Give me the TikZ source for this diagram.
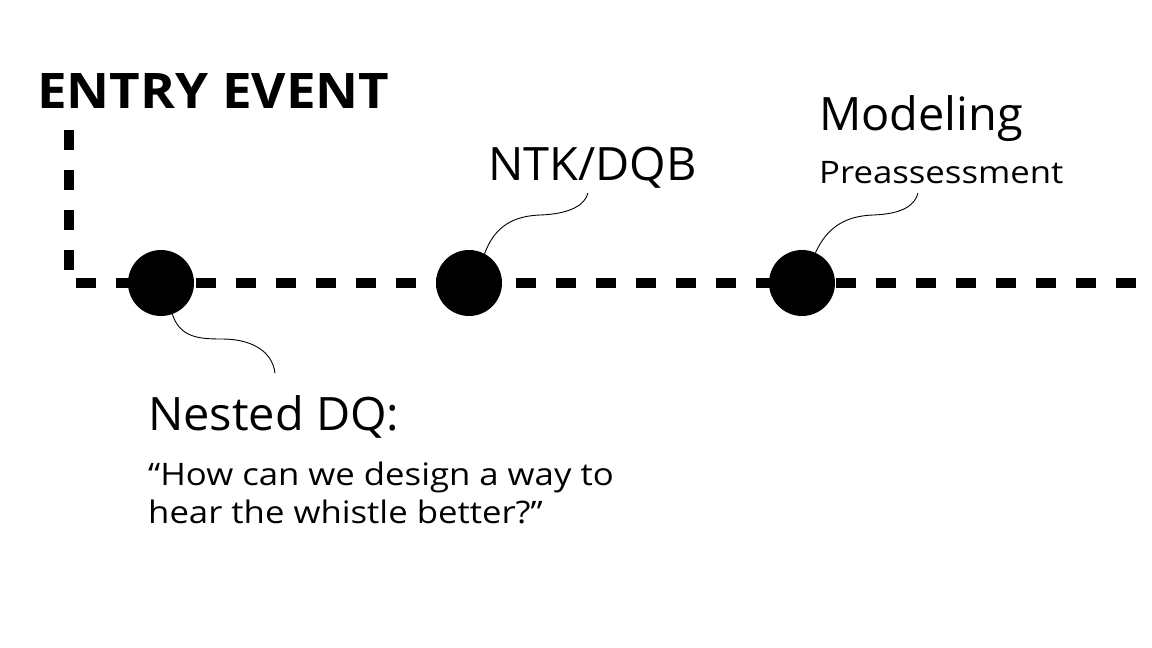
\documentclass[tikz,border=0pt]{standalone}
\usepackage{fontspec}
\setmainfont{Open Sans}[FakeStretch=1.02]
\newfontfamily\smallfam{Open Sans}[FakeStretch=1.12]
\newfontfamily\titlefam{Open Sans}[FakeStretch=1.08]
\begin{document}
\begin{tikzpicture}[x=1pt,y=-1pt,
  timeline/.style={line width=10pt,dash pattern=on 20pt off 20pt},
  milestone/.style={circle,fill=black,minimum size=66pt,inner sep=0pt},
  leader/.style={line width=0.9pt},
  bigtext/.style={anchor=base west,inner sep=0pt,font=\fontsize{46}{50}\selectfont},
  smalltext/.style={anchor=base west,inner sep=0pt,font=\smallfam\fontsize{31}{38}\selectfont},
  titletext/.style={anchor=base west,inner sep=0pt,font=\titlefam\bfseries\fontsize{49}{54}\selectfont}]
\path[use as bounding box,fill=white] (0,0) rectangle (1152,648);

\coordinate (start) at (69,130);
\coordinate (corner) at (69,283);
\coordinate (finish) at (1142,283);
\draw[timeline] (start) -- (corner) -- (finish);

\node[milestone] (c1) at (161,283) {};
\node[milestone] (c2) at (469,283) {};
\node[milestone] (c3) at (802,283) {};

\node[titletext] (title) at (37,108) {ENTRY EVENT};
\node[bigtext] (ntk) at (488,180) {NTK/DQB};
\node[bigtext] (model) at (819,130) {Modeling};
\node[smalltext] (pre) at (819,183) {Preassessment};
\node[bigtext] (nested) at (148,430) {Nested DQ:};
\node[smalltext] (quote1) at (148,485) {“How can we design a way to};
\node[smalltext] (quote2) at (148,523) {hear the whistle better?”};

\coordinate (e1) at (275,373);
\coordinate (e2) at (588,193);
\coordinate (e3) at (918,193);

\draw[leader] (c1.-70) .. controls (180,338) and (200,339) .. (222,339) .. controls (250,339) and (272,350) .. (e1);
\draw[leader] (c2.62) .. controls (495,225) and (515,216) .. (540,215) .. controls (570,214) and (585,205) .. (e2);
\draw[leader] (c3.66) .. controls (828,225) and (848,216) .. (873,215) .. controls (903,214) and (915,205) .. (e3);
\end{tikzpicture}
\end{document}
